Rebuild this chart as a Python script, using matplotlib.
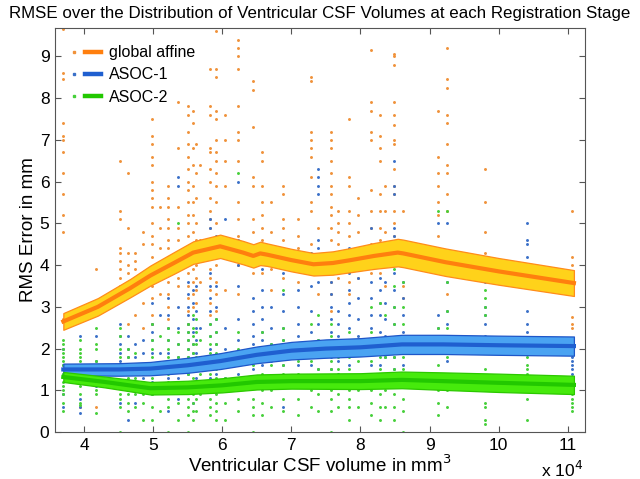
import matplotlib
matplotlib.use("Agg")
import matplotlib.pyplot as plt
from matplotlib.lines import Line2D
from matplotlib.legend_handler import HandlerTuple

plt.rcParams['font.family'] = ['Liberation Sans', 'DejaVu Sans']

# ---- data (volume in units of 10^4 mm^3, RMS error in mm) ----
col_x = [3.70, 3.94, 4.18, 4.52, 4.64, 4.74, 4.86, 4.98, 5.10, 5.22, 5.36,
         5.51, 5.57, 5.62, 5.68, 5.83, 5.91, 6.04, 6.23, 6.45, 6.58, 6.70,
         6.88, 7.09, 7.28, 7.39, 7.58, 7.68, 7.83, 7.97, 8.16, 8.28, 8.36,
         8.48, 8.62, 9.12, 9.26, 9.81, 10.41, 11.06]

affine_vals = [
    [9.65, 8.6, 8.45, 7.4, 7.1, 7.0, 6.7, 6.2, 5.7, 5.2, 4.8, 2.7],
    [2.8, 1.4, 0.6],
    [3.9, 0.6],
    [6.5, 5.3, 5.1, 4.4, 4.3, 4.1, 3.9, 3.7, 3.5, 3.3, 3.2],
    [6.2, 4.9, 4.3, 4.0, 3.8, 3.5, 3.3, 2.6],
    [4.3, 4.1, 3.9, 3.7, 3.4, 2.8],
    [4.8, 4.5, 3.1, 2.5],
    [7.5, 7.1, 6.9, 6.6, 6.4, 6.0, 5.8, 5.6, 5.4, 5.0, 4.7, 4.5, 4.2, 3.9, 3.5, 3.2, 2.8, 2.6],
    [5.4, 4.9, 4.4, 3.3],
    [5.9, 5.6, 5.4, 5.1, 4.9, 4.6, 4.4, 4.2, 3.9, 3.6, 3.3, 3.0, 2.7],
    [7.9, 6.8, 5.4, 4.9, 4.6, 4.3, 4.0, 3.7, 3.5],
    [7.8, 7.6, 7.2, 6.9, 6.6, 6.3, 6.0, 5.8, 5.5, 5.2, 5.0, 4.7, 4.4, 4.1, 3.8, 3.5, 3.2, 2.9, 2.6],
    [7.7, 7.4, 6.8, 6.4, 5.9, 5.5, 5.2, 4.8, 4.5, 4.2, 3.9, 3.6, 3.3, 3.0],
    [6.9, 6.2, 5.6, 5.0, 4.6, 4.3, 4.0, 3.7, 3.4, 3.1],
    [6.4, 4.6, 3.6],
    [8.7, 7.8, 7.6, 6.8, 6.7, 6.3, 6.0, 5.6, 5.3, 5.1, 4.9, 4.5, 4.2, 3.9, 3.7, 3.4, 3.1, 2.8],
    [9.6, 8.7, 8.5, 7.7, 7.5, 7.0, 6.7, 6.5, 6.2, 5.9, 5.5, 5.0, 4.6, 4.3, 4.0, 3.6, 3.3, 2.9],
    [7.6, 7.0, 6.5, 5.9, 4.2, 3.4],
    [9.4, 9.2, 9.0, 8.7, 7.8, 7.2, 7.0, 6.5, 5.5, 5.1, 4.7, 4.3, 4.0, 3.3],
    [8.4, 8.2, 7.3, 6.1, 5.9, 5.1, 4.8, 4.4, 4.1, 3.8],
    [6.7, 6.5, 5.9, 5.5, 5.2, 4.9, 4.6, 4.4, 4.1, 3.8],
    [5.5, 4.8, 4.3, 3.9, 3.4],
    [5.9, 5.7, 5.1, 4.9, 4.6, 4.2, 3.7],
    [5.1, 4.7, 4.4, 4.0, 3.6],
    [8.5, 8.4, 7.2, 7.0, 6.8, 6.6, 6.1, 5.5, 5.3, 4.5],
    [4.9, 4.0, 3.3],
    [7.2, 7.0, 6.8, 6.5, 6.2, 5.9, 5.7, 5.4, 5.2, 4.9, 4.6, 4.2, 3.9, 3.6, 3.3, 2.9],
    [5.3, 5.0, 4.8, 4.5, 4.0, 3.7],
    [7.5, 6.1, 5.9, 5.3, 5.0, 4.7, 4.2, 3.6, 3.3],
    [5.6, 5.2, 4.8, 4.2, 3.7],
    [9.15, 7.9, 7.7, 7.2, 7.0, 5.8, 5.3, 4.9, 4.5, 4.1, 3.8],
    [7.6, 7.1, 6.8, 6.5, 5.7, 5.3, 4.9, 4.6, 4.3, 3.8],
    [5.9, 5.3, 4.8, 4.0, 3.5],
    [9.05, 9.0, 8.8, 7.9, 7.6, 7.35, 7.0, 6.9, 6.3, 5.9, 5.7, 5.3, 5.0, 4.7, 4.4],
    [5.3, 4.3, 4.0, 3.5, 3.2],
    [7.7, 6.6, 6.2, 5.9, 5.5, 5.2, 4.7, 4.3],
    [9.7, 9.2, 8.45, 8.25, 7.6, 7.4, 6.9, 6.4, 6.2, 5.7, 5.3, 3.3],
    [6.3, 5.5, 4.8, 4.3],
    [],
    [5.3, 4.2, 4.0, 3.7, 3.5, 3.35, 2.75, 2.6, 2.5],
]

asoc1_vals = [
    [2.0, 1.6, 1.4, 0.9, 0.6],
    [2.3, 1.6, 1.3, 0.8, 0.6, 0.45],
    [2.3, 1.7, 1.1],
    [2.6, 2.3, 2.1, 1.9, 1.7, 1.4, 1.2, 0.7],
    [2.3, 2.0, 1.8, 1.6, 1.4, 1.0, 0.3],
    [2.1, 1.8, 1.5, 1.2, 0.7],
    [2.2, 1.9, 1.6, 1.3],
    [3.1, 2.6, 2.4, 2.2, 1.9, 1.6, 1.2, 0.9],
    [2.8, 1.9, 1.5],
    [3.2, 2.8, 2.5, 2.2, 1.9, 1.6, 1.3, 1.0, 0.5],
    [6.1, 5.9, 3.0, 2.5, 2.1, 1.8, 1.3, 0.8],
    [3.6, 3.3, 3.0, 2.8, 2.6, 2.4, 2.2, 2.0, 1.8, 1.6, 1.4],
    [3.4, 3.1, 2.7, 2.4, 2.1, 1.9, 1.7, 1.5, 1.2, 1.0, 0.7],
    [3.5, 2.9, 2.5, 2.2, 1.9, 1.6, 1.3, 1.0],
    [2.5, 1.8],
    [5.1, 4.9, 4.2, 3.8, 3.5, 3.2, 2.9, 2.6, 2.3, 2.0, 1.8, 1.5, 1.3],
    [4.7, 4.4, 3.5, 3.0, 2.7, 2.4, 2.1, 1.8, 1.6, 1.4, 1.1],
    [5.1, 2.5, 2.0, 1.6, 1.3],
    [6.0, 4.6, 4.3, 4.0, 3.5, 2.7, 2.2, 1.8, 1.4],
    [3.2, 2.9, 2.6, 2.3, 2.1, 1.8, 1.5, 1.2],
    [3.9, 3.4, 3.0, 2.7, 2.4, 2.2, 1.9, 1.6, 1.3],
    [3.0, 2.5, 2.1, 1.7],
    [3.8, 3.3, 2.9, 2.5, 2.2, 1.9, 1.6, 1.3, 0.6],
    [3.4, 3.0, 2.6, 2.3, 1.9, 1.6],
    [4.3, 3.5, 2.9, 2.4, 2.0, 1.6],
    [6.3, 6.1, 5.9, 5.7, 4.6, 4.4, 4.1, 3.8, 3.6, 2.6, 2.2, 1.8, 1.5],
    [3.6, 3.3, 3.0, 2.7, 2.4, 2.1, 1.8, 1.5],
    [2.9, 2.6, 2.3, 2.0, 1.7, 1.4],
    [4.4, 4.1, 3.8, 3.4, 3.1, 2.8, 2.5, 2.2, 1.9, 1.6],
    [3.7, 3.2, 2.7, 2.3, 2.0],
    [4.9, 4.4, 4.0, 3.6, 3.2, 2.8, 2.5, 2.2, 1.9, 1.6],
    [4.4, 4.0, 3.7, 3.4, 3.1, 2.8, 2.4, 2.0, 1.6],
    [3.6, 3.1, 2.7, 2.3, 1.8, 1.4],
    [6.5, 5.9, 5.7, 4.9, 4.7, 4.2, 3.8, 3.4, 3.0, 2.6, 2.2, 1.8, 1.5],
    [4.0, 3.6, 3.2, 2.8, 2.4, 2.0, 1.6],
    [5.0, 2.8, 2.5, 2.2, 1.9],
    [5.0, 3.6, 2.9, 2.6, 2.3, 2.0, 1.7],
    [3.6, 3.0, 2.8, 2.6, 2.3, 2.1, 1.9],
    [5.0, 4.6, 4.5, 4.2, 3.9, 2.9, 2.6, 2.4, 2.1],
    [2.2, 2.0, 1.9, 1.8, 1.7, 1.6, 1.5, 1.4, 1.3],
]

asoc2_vals = [
    [2.2, 2.1, 2.0, 1.9, 1.8, 1.7, 1.6, 1.5, 1.4, 1.2, 1.1, 1.0, 0.9, 0.7, 0.5],
    [2.2, 2.0, 1.9, 1.8, 1.7, 1.5, 1.3, 1.1, 0.9, 0.7, 0.65],
    [2.5, 2.1, 2.0, 1.7, 1.6, 1.5, 1.3, 1.2, 1.0, 0.9, 0.45],
    [2.5, 2.3, 2.0, 1.8, 1.6, 1.5, 1.4, 1.2, 1.1, 0.9, 0.8, 0.6, 0.0],
    [2.0, 1.8, 1.5, 1.3, 1.1, 0.9, 0.7, 0.5],
    [1.9, 1.6, 1.3, 1.1, 0.9, 0.6],
    [1.4, 1.2, 0.9, 0.7, 0.3],
    [2.6, 2.2, 2.0, 1.8, 1.5, 1.3, 1.1, 0.9, 0.6, 0.3],
    [2.3, 1.6, 1.0, 0.5],
    [2.5, 2.2, 2.0, 1.8, 1.6, 1.4, 1.2, 1.0, 0.8, 0.6, 0.0],
    [5.0, 2.4, 2.1, 1.8, 1.5, 1.2, 1.0, 0.7, 0.3],
    [2.6, 2.4, 2.2, 2.0, 1.8, 1.6, 1.4, 1.2, 1.0, 0.8, 0.6, 0.4, 0.0],
    [2.8, 2.5, 2.3, 2.1, 1.9, 1.7, 1.5, 1.3, 1.1, 0.9, 0.7, 0.5, 0.3],
    [2.7, 2.4, 2.1, 1.8, 1.5, 1.2, 1.0, 0.8, 0.5],
    [2.2, 1.4, 0.9],
    [4.3, 2.6, 2.3, 2.1, 1.9, 1.6, 1.4, 1.2, 1.0, 0.8, 0.6, 0.4],
    [4.6, 2.7, 2.4, 2.1, 1.9, 1.7, 1.5, 1.3, 1.1, 0.9, 0.7, 0.5, 0.3],
    [1.6, 1.3, 1.0, 0.7, 0.3],
    [6.2, 4.5, 4.1, 2.4, 2.0, 1.6, 1.3, 1.1, 0.8, 0.5],
    [2.0, 1.6, 1.3, 1.1, 0.8, 0.6, 0.4, 0.0],
    [2.4, 2.0, 1.7, 1.4, 1.2, 1.0, 0.7, 0.4],
    [2.1, 1.6, 1.3, 1.0, 0.6],
    [3.4, 2.5, 2.2, 1.9, 1.6, 1.4, 1.1, 0.8, 0.5],
    [2.0, 1.7, 1.4, 1.1, 0.8, 0.4],
    [2.6, 2.1, 1.7, 1.3, 1.0, 0.6],
    [2.8, 2.2, 1.8, 1.5, 1.2, 0.9, 0.5],
    [2.6, 2.3, 2.0, 1.7, 1.5, 1.2, 1.0, 0.8, 0.5, 0.0],
    [2.2, 1.8, 1.5, 1.2, 0.9, 0.6],
    [2.4, 2.1, 1.8, 1.5, 1.3, 1.0, 0.8, 0.6, 0.3],
    [2.1, 1.7, 1.3, 1.0, 0.6],
    [3.0, 2.4, 2.0, 1.7, 1.4, 1.2, 1.0, 0.7, 0.4],
    [3.1, 2.2, 1.8, 1.5, 1.2, 0.9, 0.6, 0.3],
    [2.8, 2.2, 1.8, 1.4, 1.0, 0.6],
    [3.9, 3.5, 3.0, 2.6, 2.2, 1.8, 1.5, 1.2, 0.9, 0.6, 0.3],
    [3.6, 3.0, 2.6, 2.2, 1.8, 1.5, 1.1, 0.8, 0.5, 0.0],
    [5.3, 2.5, 2.2, 1.9, 1.6, 1.3, 1.0, 0.7, 0.4],
    [5.3, 4.2, 3.6, 2.9, 2.5, 2.1, 1.8, 1.4, 1.0, 0.6],
    [3.4, 3.2, 3.0, 2.8, 2.2, 1.5, 1.3, 1.0, 0.7, 0.6, 0.3, 0.2],
    [2.1, 1.9, 1.8, 1.6, 1.5, 1.4, 1.0, 0.8, 0.3],
    [1.3, 1.2, 1.1, 1.0, 0.9, 0.8, 0.7, 0.6, 0.5],
]

# smoothed mean curves and confidence half-widths
affine_cx = [3.70, 4.20, 4.67, 4.96, 5.30, 5.58, 5.97, 6.30, 6.45, 6.55, 6.65, 7.00, 7.32, 7.60, 7.86, 8.20, 8.54, 8.62, 9.23, 10.00, 11.09]
affine_mean = [2.65, 3.00, 3.45, 3.75, 4.05, 4.30, 4.45, 4.30, 4.22, 4.28, 4.25, 4.12, 4.02, 4.05, 4.12, 4.22, 4.30, 4.28, 4.07, 3.85, 3.57]
affine_half = [0.20, 0.21, 0.22, 0.24, 0.26, 0.27, 0.28, 0.28, 0.28, 0.28, 0.27, 0.27, 0.27, 0.28, 0.29, 0.31, 0.33, 0.33, 0.33, 0.32, 0.31]

asoc1_cx = [3.70, 4.50, 4.96, 5.50, 5.97, 6.50, 7.00, 7.50, 8.00, 8.60, 9.20, 10.00, 11.09]
asoc1_mean = [1.50, 1.50, 1.52, 1.60, 1.70, 1.85, 1.95, 2.00, 2.03, 2.10, 2.10, 2.08, 2.06]
asoc1_half = [0.14, 0.15, 0.16, 0.18, 0.19, 0.20, 0.21, 0.22, 0.22, 0.23, 0.23, 0.23, 0.23]

asoc2_cx = [3.70, 4.30, 4.96, 5.50, 6.00, 6.50, 7.00, 8.00, 8.60, 9.20, 10.00, 11.09]
asoc2_mean = [1.32, 1.20, 1.05, 1.07, 1.12, 1.20, 1.22, 1.22, 1.25, 1.22, 1.18, 1.13]
asoc2_half = [0.12, 0.13, 0.15, 0.16, 0.17, 0.18, 0.18, 0.19, 0.20, 0.21, 0.22, 0.22]

series_names = ['global affine', 'ASOC-1', 'ASOC-2']
x_ticks = [4, 5, 6, 7, 8, 9, 10, 11]
y_ticks = [0, 1, 2, 3, 4, 5, 6, 7, 8, 9]

# ---- styling ----
dot_colors = ['#F0923A', '#3A70C8', '#46D03A']
line_colors = ['#FF7F0E', '#1F5FD0', '#22C800']
band_colors = ['#FFD21A', '#4AA3F2', '#46EA0C']
band_edges = ['#FF8C1A', '#1E56C8', '#2CC800']

fig = plt.figure(figsize=(6.4, 4.79), dpi=100)
ax = fig.add_axes([0.086, 0.098, 0.828, 0.8435])

all_vals = [affine_vals, asoc1_vals, asoc2_vals]
for vals, c in zip(all_vals, dot_colors):
    xs, ys = [], []
    for cx, col in zip(col_x, vals):
        xs.extend([cx] * len(col))
        ys.extend(col)
    ax.scatter(xs, ys, s=4.5, c=c, marker='o', linewidths=0, zorder=2)

curves = [(affine_cx, affine_mean, affine_half),
          (asoc1_cx, asoc1_mean, asoc1_half),
          (asoc2_cx, asoc2_mean, asoc2_half)]
for i, (cx, m, h) in enumerate(curves):
    lo = [a - b for a, b in zip(m, h)]
    hi = [a + b for a, b in zip(m, h)]
    ax.fill_between(cx, lo, hi, color=band_colors[i], edgecolor=band_edges[i],
                    linewidth=0.9, zorder=3)
    ax.plot(cx, m, color=line_colors[i], linewidth=3.0, zorder=4)

ax.set_xlim(3.58, 11.25)
ax.set_ylim(0, 9.68)
ax.set_xticks(x_ticks)
ax.set_yticks(y_ticks)
ax.tick_params(direction='in', top=True, right=True, labelsize=12.5, length=4,
               color='#555555', pad=4)
for sp in ax.spines.values():
    sp.set_color('#555555')
    sp.set_linewidth(0.8)

fig.text(0.5, 0.972, 'RMSE over the Distribution of Ventricular CSF Volumes at each Registration Stage',
         ha='center', va='center', fontsize=12.2)
ax.set_xlabel('Ventricular CSF volume in mm$^3$', fontsize=13.5, labelpad=1)
ax.set_ylabel('RMS Error in mm', fontsize=13.5, labelpad=2)
fig.text(0.911, 0.018, r'x 10$^4$', ha='right', va='center', fontsize=12.5)

handles = []
for i in range(3):
    d = Line2D([], [], linestyle='none', marker='s', markersize=1.6, color=dot_colors[i])
    l = Line2D([], [], color=line_colors[i], linewidth=3.2)
    handles.append((d, l))
leg = ax.legend(handles, series_names, loc='upper left', frameon=False,
                handler_map={tuple: HandlerTuple(ndivide=None, pad=0.2)},
                handlelength=2.2, fontsize=11.5, borderaxespad=0.3,
                labelspacing=0.45, handletextpad=0.5, bbox_to_anchor=(0.0, 0.985))
leg.set_zorder(6)

fig.savefig('out.png', dpi=100)
